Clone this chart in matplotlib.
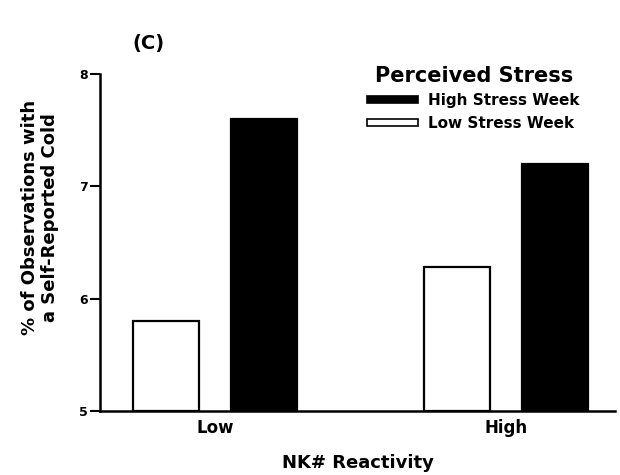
import matplotlib
matplotlib.use("Agg")
import matplotlib.pyplot as plt
from matplotlib.patches import Rectangle

plt.rcParams['font.family'] = ['DejaVu Sans']

# data
groups = ["Low", "High"]
low_stress = [5.8, 6.28]
high_stress = [7.6, 7.2]
yticks = [5, 6, 7, 8]

fig = plt.figure(figsize=(6.2, 4.75), dpi=100)
ax = fig.add_axes([0.1613, 0.1347, 0.8306, 0.7095])

x = [0, 1]
w = 0.227
off = 0.168
ax.bar([i - off for i in x], [v - 5 for v in low_stress], w, bottom=5,
       color="white", edgecolor="black", linewidth=1.6)
ax.bar([i + off for i in x], [v - 5 for v in high_stress], w, bottom=5,
       color="black", edgecolor="black", linewidth=1.6)

ax.set_ylim(5, 8)
ax.set_xlim(-0.395, 1.375)
ax.set_yticks(yticks)
ax.set_yticklabels([str(t) for t in yticks], fontweight="bold", fontsize=9)
ax.set_xticks(x)
ax.set_xticklabels(groups, fontweight="bold", fontsize=12)
ax.tick_params(axis="x", length=0, pad=6)
ax.tick_params(axis="y", length=7, width=1.5, direction="out", pad=1.5)

for s in ["top", "right"]:
    ax.spines[s].set_visible(False)
ax.spines["left"].set_linewidth(1.8)
ax.spines["bottom"].set_linewidth(1.8)

ax.set_ylabel("% of Observations with\na Self-Reported Cold", fontweight="bold",
              fontsize=13, linespacing=1.1)
ax.yaxis.set_label_coords(-0.080, 0.575)
ax.set_xlabel("NK# Reactivity", fontweight="bold", fontsize=13, labelpad=12)

fig.text(148 / 620, 1 - 43 / 475, "(C)", fontweight="bold", fontsize=14,
         ha="center", va="center")

handles = [Rectangle((0, 0), 1, 1, facecolor="black", edgecolor="black", linewidth=1.2),
           Rectangle((0, 0), 1, 1, facecolor="white", edgecolor="black", linewidth=1.2)]
leg = ax.legend(handles, ["High Stress Week", "Low Stress Week"],
                title="Perceived Stress", loc="upper right", bbox_to_anchor=(0.932, 1.025),
                frameon=False, prop={"weight": "bold", "size": 11},
                handlelength=3.3, handleheight=0.35, handletextpad=0.7,
                labelspacing=0.5, borderpad=0, borderaxespad=0)
leg.get_title().set_fontweight("bold")
leg.get_title().set_fontsize(15)

fig.savefig("out.png", dpi=100)
